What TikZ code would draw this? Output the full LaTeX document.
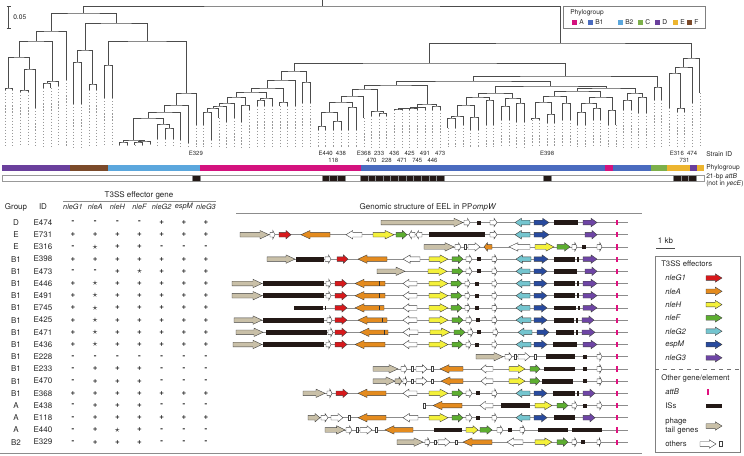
\documentclass[tikz,border=0pt]{standalone}
\usepackage{fontspec}
\setmainfont{TeX Gyre Heros}
\usetikzlibrary{calc}

% phylogroup colours
\definecolor{grA}{HTML}{D4127E}
\definecolor{grBi}{HTML}{4A6BBF}
\definecolor{grBii}{HTML}{5BA7DD}
\definecolor{grC}{HTML}{7DB04A}
\definecolor{grD}{HTML}{6A3F9C}
\definecolor{grE}{HTML}{EDB52F}
\definecolor{grF}{HTML}{7B4A2A}
% gene colours
\definecolor{cnleGi}{HTML}{D7191C}
\definecolor{cnleA}{HTML}{E48B1E}
\definecolor{cnleH}{HTML}{F4F13A}
\definecolor{cnleF}{HTML}{5DAE30}
\definecolor{cnleGii}{HTML}{74C5CF}
\definecolor{cespM}{HTML}{284A9E}
\definecolor{cnleGiii}{HTML}{6E45A5}
\definecolor{ctail}{HTML}{C9C0A8}
\definecolor{cattB}{HTML}{E0117F}
\definecolor{cIS}{HTML}{231916}

\tikzset{
    branch/.style = {draw=black!70, line width=0.55pt},
    leafdot/.style = {draw=black!40, line width=0.4pt, dash pattern=on 0.9pt off 1.4pt},
    sid/.style = {inner sep=0pt, font=\fontsize{4.5}{5}\selectfont},
    barlab/.style = {anchor=west, inner sep=0pt, font=\fontsize{5}{6}\selectfont},
    tabtext/.style = {inner sep=0pt, font=\fontsize{6}{7}\selectfont},
    headtext/.style = {inner sep=0pt, font=\fontsize{5.5}{7}\selectfont\itshape},
    legtext/.style = {anchor=west, inner sep=0pt, align=left, font=\fontsize{5.8}{6.6}\selectfont},
    rule/.style = {draw=black!45, line width=0.6pt},
    backbone/.style = {draw=black!45, line width=0.5pt},
    gene/.style = {draw=black!75, line width=0.3pt},
    eGi/.style = {gene, fill=cnleGi},
    eA/.style = {gene, fill=cnleA},
    eH/.style = {gene, fill=cnleH},
    eF/.style = {gene, fill=cnleF},
    eGii/.style = {gene, fill=cnleGii},
    eM/.style = {gene, fill=cespM},
    eGiii/.style = {gene, fill=cnleGiii},
    tail/.style = {gene, fill=ctail},
    oth/.style = {gene, fill=white}
}
% tree: a clade joins two children at a height
\newcommand{\clade}[4]{%
  \coordinate (#1) at ($(#2 |- 0,#4)!0.5!(#3 |- 0,#4)$);
  \draw[branch] (#2) |- (#1) -| (#3);}
% genes on the current row \ry
\newcommand{\generow}[2]{%
  \pgfmathsetmacro{\ry}{222.5+12.2*#1}
  \draw[backbone] (#2,\ry) -- (628,\ry);}
\newcommand{\gene}[3]{%
  \pgfmathsetmacro{\gh}{min(9,0.42*abs(#3-#2))*((#3>#2)*2-1)}
  \filldraw[#1] (#2,\ry-2.3) -- (#3-\gh,\ry-2.3) -- (#3-\gh,\ry-4.2) -- (#3,\ry)
    -- (#3-\gh,\ry+4.2) -- (#3-\gh,\ry+2.3) -- (#2,\ry+2.3) -- cycle;}
\newcommand{\wbox}[1]{\filldraw[oth] (#1-1.3,\ry-2.4) rectangle (#1+1.3,\ry+2.4);}
\newcommand{\bsq}[1]{\fill[cIS] (#1-2,\ry-2) rectangle (#1+2,\ry+2);}
\newcommand{\isbar}[2]{\fill[cIS] (#1,\ry-2.4) rectangle (#2,\ry+2.4);}
\newcommand{\attb}[1]{\fill[cattB] (#1-1,\ry-2.6) rectangle (#1+1,\ry+2.6);}
\newcommand{\cut}[1]{\draw[black!80, line width=0.35pt] (#1,\ry-2.3) -- (#1,\ry+2.3);}
\newcommand{\symp}{\textbf{+}}
\newcommand{\symm}{\textbf{-}}
\newcommand{\syms}{{\fontsize{7.5}{7.5}\selectfont$\star$}}

\begin{document}
\begin{tikzpicture}[x=0.75pt, y=-0.75pt, color=black!85]
\useasboundingbox (0,0) rectangle (744,455);

% scale bar
\draw[branch] (6.5,6) -- (11,6) (8.8,6) -- (8.8,28) (6.5,28) -- (11,28);
\node[barlab] (scale) at (13,17) {0.05};

% leaves
\foreach \t [count=\i from 0] in {90,90,92,92,108,88,88,86,80,104,104,90,90,98,98,
  145,145,145,145,144,139,139,139,140,143,125,125,140,118,122,118,122,110,106,106,
  106,106,106,106,103,103,130,130,130,130,130,130,118,116,116,116,110,110,110,110,
  110,110,110,128,128,125,130,130,125,125,120,120,122,122,120,120,123,123,120,120,
  125,125,120,120,125,125,110,110,113,113,100,100,108,112,112,103,93} {
  \coordinate (L\i) at ({5+7.635*\i},\t);
  \draw[leafdot] (L\i) -- ({5+7.635*\i},147);
}
% D, F and B2
\clade{d1}{L0}{L1}{88}
\clade{d2}{L2}{L3}{90}
\clade{d3}{d2}{L4}{69}
\clade{d4}{d1}{d3}{57}
\clade{d5}{L5}{L6}{83}
\clade{d6}{d5}{L7}{81}
\clade{d7}{d4}{d6}{41}
\clade{d8}{d7}{L8}{31}
\clade{f1}{L9}{L10}{62}
\clade{f2}{L11}{L12}{84}
\clade{f3}{f1}{f2}{50}
\clade{f4}{L13}{L14}{65}
\clade{b1}{L15}{L16}{142}
\clade{b2}{L17}{L18}{142}
\clade{b3}{b2}{L19}{141}
\clade{b4}{b1}{b3}{140}
\clade{b5}{L21}{L22}{128}
\clade{b6}{L20}{b5}{124}
\clade{b7}{b4}{b6}{118}
\clade{b8}{b7}{L23}{112}
\clade{b9}{b8}{L24}{105}
\clade{b10}{b9}{L25}{93}
\clade{b11}{f4}{b10}{41}
\clade{b12}{f3}{b11}{23}
\clade{left}{d8}{b12}{13}
% A
\clade{a1}{L26}{L27}{112}
\clade{a2}{a1}{L28}{108}
\clade{a3}{a2}{L29}{106}
\clade{a4}{a3}{L30}{103}
\clade{a5}{L31}{L32}{105}
\clade{a6}{a4}{a5}{97}
\clade{a7}{L33}{L34}{100}
\clade{a8}{a7}{L35}{98}
\clade{a9}{a6}{a8}{92}
\clade{a10}{L36}{L37}{102}
\clade{a11}{a9}{a10}{88}
\clade{a12}{a11}{L38}{80}
\clade{a13}{L39}{L40}{82}
\clade{a14}{a12}{a13}{71}
% A and B1
\clade{p1}{L41}{L42}{126}
\clade{p2}{L43}{L44}{121}
\clade{p3}{p1}{p2}{112}
\clade{p4}{L45}{L46}{107}
\clade{p5}{p3}{p4}{102}
\clade{p6}{p5}{L47}{96}
\clade{p7}{L49}{L50}{113}
\clade{p8}{L48}{p7}{111}
\clade{p9}{p6}{p8}{89}
\clade{q1}{L51}{L52}{109}
\clade{q2}{q1}{L53}{108.5}
\clade{q3}{q2}{L54}{108}
\clade{q4}{q3}{L55}{107.5}
\clade{q5}{L56}{L57}{106}
\clade{q6}{q4}{q5}{104}
\clade{q7}{p9}{q6}{85}
\clade{r1}{L58}{L59}{118}
\clade{r2}{r1}{L60}{116}
\clade{r3}{L61}{L62}{117}
\clade{r4}{r2}{r3}{105}
\clade{r5}{L63}{L64}{100}
\clade{r6}{r4}{r5}{97}
\clade{r7}{L65}{L66}{106}
\clade{r8}{L67}{L68}{103}
\clade{r9}{r7}{r8}{98}
\clade{r10}{r6}{r9}{93}
\clade{r11}{L69}{L70}{118}
\clade{r12}{L71}{L72}{114}
\clade{r13}{r11}{r12}{102}
\clade{r14}{L73}{L74}{103}
\clade{r15}{r13}{r14}{96}
\clade{r16}{L75}{L76}{112}
\clade{r17}{L77}{L78}{108}
\clade{r18}{r16}{r17}{103}
\clade{r19}{L79}{L80}{110}
\clade{r20}{r18}{r19}{97}
\clade{r21}{r15}{r20}{91}
\clade{r22}{L81}{L82}{100}
\clade{r23}{L83}{L84}{97}
\clade{r24}{r22}{r23}{93}
\clade{r25}{r21}{r24}{88}
\clade{r26}{r10}{r25}{86}
\clade{r27}{q7}{r26}{81}
% C, E and D
\clade{c1}{L85}{L86}{87}
\clade{r28}{r27}{c1}{76}
\clade{r29}{a14}{r28}{63}
\clade{e1}{L88}{L89}{108}
\clade{e2}{L87}{e1}{73}
\clade{e3}{e2}{L90}{67}
\clade{e4}{e3}{L91}{58}
\clade{right}{r29}{e4}{43}
\clade{root}{left}{right}{6}
\draw[branch] (root) -- (root |- 0,0);

% strain IDs
\foreach \lf/\lab in {25/E329, 42/E440, 44/438, 47/E368, 49/233, 51/436, 53/425,
  55/491, 57/473, 71/E398, 88/E316, 90/474}
  \node[sid] (id\lab) at (L\lf |- 0,153.5) {\lab};
\foreach \lf/\lab in {43/118, 48/470, 50/228, 52/471, 54/745, 56/446, 89/731}
  \node[sid] (id\lab) at (L\lf |- 0,160) {\lab};
\node[barlab] (strain) at (706,154.5) {Strain ID};

% phylogroup bar
\foreach \a/\b/\c in {2/70/grD, 70/108/grF, 108/200/grBii, 200/361/grA, 361/605/grBi,
  605/613/grA, 613/651/grBi, 651/667/grC, 667/690/grE, 690/697/grD, 697/704/grE}
  \fill[\c] (\a,165) rectangle (\b,171);
\node[barlab] (phylo) at (706,168) {Phylogroup};

% attB bar
\draw[draw=black!40, line width=0.4pt, fill=white] (2,175) rectangle (704,181);
\foreach \i in {25,42,43,44,47,48,49,50,51,52,53,54,55,56,57,71,88,89,90}
  \filldraw[fill=cIS, draw=black!45, line width=0.2pt] ({5+7.635*\i-3.8},175) rectangle ++(7.6,6);
\node[barlab] (attb) at (706,176.5) {21-bp \textit{attB}};
\node[barlab] (yece) at (706,183.5) {(not in \textit{yecE})};

% phylogroup legend
\draw[draw=black!50, line width=0.5pt] (563,6) rectangle (705,28);
\node[barlab] (legphylo) at (570,13) {Phylogroup};
\foreach \c/\lab/\x in {grA/A/572, grBi/B1/588, grBii/B2/618, grC/C/638, grD/D/655,
  grE/E/673, grF/F/687} {
  \fill[\c] (\x,19.5) rectangle ++(5,5);
  \node[barlab] at (\x+7,22) {\lab};
}

% table
\node[tabtext] (t3ss) at (139,195) {T3SS effector gene};
\draw[rule] (63,201) -- (216,201);
\node[tabtext] (group) at (16,207) {Group};
\node[tabtext] (id) at (43,207) {ID};
\foreach \nm [count=\c from 0] in {nleG1, nleA, nleH, nleF, nleG2, espM, nleG3}
  \node[headtext] at (73+22.17*\c,207) {\nm};
\foreach \g/\id/\v [count=\r from 0] in {
  D/E474/{m,m,m,m,p,p,p}, E/E731/{p,p,p,p,p,p,p}, E/E316/{m,s,p,p,m,m,m},
  B1/E398/{p,p,p,p,p,p,p}, B1/E473/{m,m,p,s,p,p,p}, B1/E446/{p,s,p,p,p,p,p},
  B1/E491/{p,s,p,p,p,p,p}, B1/E745/{p,s,p,p,p,p,p}, B1/E425/{p,s,p,p,p,p,p},
  B1/E471/{p,s,p,p,p,p,p}, B1/E436/{p,s,p,p,p,p,p}, B1/E228/{m,m,m,m,m,m,m},
  B1/E233/{m,p,p,p,m,m,m}, B1/E470/{m,p,p,p,m,m,m}, B1/E368/{p,p,p,p,p,p,p},
  A/E438/{m,p,p,p,m,m,m}, A/E118/{m,p,p,p,p,p,p}, A/E440/{m,p,s,p,m,m,m},
  B2/E329/{m,p,p,p,m,m,m}} {
  \pgfmathsetmacro{\ty}{222.5+12.2*\r}
  \node[tabtext] at (16,\ty) {\g};
  \node[tabtext] at (43,\ty) {\id};
  \foreach \s [count=\c from 0] in \v
    \node[tabtext] at (73+22.17*\c,\ty) {\csname sym\s\endcsname};
}
\node[tabtext] (genome) at (428,207) {Genomic structure of EEL in PP\textit{ompW}};
\draw[rule] (236,213) -- (642,213);
\draw[rule] (0,453) -- (642,453);

% genomic structure of each strain
\generow{0}{381}
\gene{tail}{381}{463} \gene{oth}{464}{470} \bsq{479} \gene{oth}{490}{497}
\gene{eGii}{530}{515} \gene{eM}{534}{549} \isbar{554}{578} \gene{eGiii}{583}{597} \attb{617}
\generow{1}{240}
\gene{tail}{240}{269} \gene{oth}{270}{275} \gene{eGi}{279}{291} \gene{eA}{330}{301}
\gene{oth}{362}{346} \gene{eH}{373}{394} \gene{eF}{396}{407} \gene{oth}{415}{409} \gene{oth}{422}{416}
\isbar{429}{485} \gene{oth}{490}{497} \gene{eGii}{530}{515} \gene{eM}{534}{549}
\gene{eGiii}{585}{597} \attb{617}
\generow{2}{424}
\gene{tail}{424}{454} \gene{oth}{455}{461} \wbox{465} \gene{oth}{468}{480} \gene{eA}{492}{484}
\gene{oth}{530}{509} \gene{eH}{535}{554} \gene{eF}{557}{570} \gene{oth}{572}{577} \bsq{584}
\gene{oth}{597}{602} \attb{617}
\generow{3}{267}
\gene{tail}{267}{295} \isbar{296}{324} \gene{oth}{325}{331} \gene{eGi}{337}{348} \gene{eA}{387}{358}
\gene{oth}{420}{403} \gene{eH}{429}{448} \gene{eF}{452}{463} \gene{oth}{466}{472} \bsq{479}
\gene{oth}{492}{497} \gene{eGii}{531}{516} \gene{eM}{534}{548} \isbar{554}{575} \isbar{577}{579}
\gene{eGiii}{583}{597} \attb{617}
\generow{4}{377}
\gene{tail}{377}{405} \gene{eH}{428}{447} \gene{eF}{452}{463} \gene{oth}{466}{472} \bsq{479}
\gene{oth}{492}{497} \gene{eGii}{530}{516} \gene{eM}{534}{547} \isbar{554}{577}
\gene{eGiii}{585}{597} \attb{617}
\foreach \k in {5,6} {
  \generow{\k}{232}
  \gene{tail}{232}{262} \isbar{263}{324} \gene{oth}{326}{331} \gene{eGi}{335}{347}
  \gene{eA}{385}{355} \cut{379} \gene{oth}{417}{403} \gene{eH}{429}{448} \gene{eF}{451}{462}
  \gene{oth}{465}{470} \bsq{477} \gene{oth}{492}{497} \gene{eGii}{530}{516} \gene{eM}{534}{547}
  \isbar{554}{575} \isbar{577}{579} \gene{eGiii}{583}{597} \attb{617}
}
\generow{7}{294}
\isbar{294}{323} \isbar{324.5}{326} \gene{eGi}{335}{347} \gene{eA}{384}{355} \cut{379}
\gene{oth}{417}{403} \gene{eH}{429}{448} \gene{eF}{451}{462} \gene{oth}{465}{470} \bsq{477}
\gene{oth}{492}{497} \gene{eGii}{530}{516} \gene{eM}{534}{547} \isbar{554}{576} \isbar{578}{580}
\gene{eGiii}{583}{597} \attb{617}
\generow{8}{234}
\gene{tail}{234}{262} \isbar{263}{324} \gene{oth}{327}{332} \gene{eGi}{335}{347}
\gene{eA}{387}{358} \cut{382} \gene{oth}{417}{403} \gene{eH}{429}{448} \gene{eF}{452}{463}
\gene{oth}{466}{472} \bsq{478} \gene{oth}{492}{497} \gene{eGii}{531}{516} \gene{eM}{534}{547}
\isbar{554}{574} \isbar{576}{578} \gene{eGiii}{582}{594} \attb{617}
\generow{9}{236}
\gene{tail}{236}{263} \isbar{266}{327} \gene{oth}{328}{333} \gene{eGi}{335}{347}
\gene{eA}{388}{360} \cut{384} \gene{oth}{418}{403} \gene{eH}{430}{450} \gene{eF}{454}{465}
\gene{oth}{468}{473} \bsq{479} \gene{oth}{493}{498} \gene{eGii}{532}{518} \gene{eM}{537}{549}
\isbar{556}{574} \isbar{576}{578} \gene{eGiii}{582}{595} \attb{617}
\generow{10}{233}
\gene{tail}{233}{262} \isbar{263}{324} \gene{oth}{326}{331} \gene{eGi}{335}{347}
\gene{eA}{385}{355} \gene{oth}{417}{403} \gene{eH}{429}{448} \gene{eF}{452}{463}
\gene{oth}{466}{471} \bsq{477} \gene{oth}{492}{497} \gene{eGii}{531}{516} \gene{eM}{534}{547}
\isbar{553}{577} \gene{eGiii}{583}{597} \attb{617}
\generow{11}{476}
\gene{tail}{476}{503} \gene{oth}{505}{512} \wbox{515} \gene{oth}{518}{530} \wbox{535}
\isbar{546}{575} \bsq{585} \gene{oth}{597}{602} \attb{617}
\generow{12}{373}
\gene{tail}{373}{398} \gene{oth}{401}{407} \wbox{412} \gene{oth}{416}{427} \wbox{432}
\gene{eA}{463}{440} \gene{oth}{493}{481} \gene{eH}{509}{525} \gene{eF}{530}{540}
\isbar{544}{575} \bsq{585} \gene{oth}{597}{602} \attb{617}
\generow{13}{373}
\gene{tail}{373}{395} \gene{tail}{395}{402} \gene{oth}{403}{407} \wbox{412} \gene{oth}{416}{427}
\wbox{432} \gene{eA}{463}{441} \gene{oth}{493}{481} \gene{eH}{509}{525} \gene{eF}{530}{540}
\isbar{542}{573} \bsq{585} \gene{oth}{597}{602} \attb{617}
\generow{14}{303}
\gene{tail}{303}{325} \gene{oth}{327}{332} \gene{eGi}{336}{348} \gene{eA}{386}{358}
\gene{oth}{417}{403} \gene{eH}{429}{448} \gene{eF}{452}{463} \gene{oth}{466}{472} \bsq{478}
\gene{oth}{492}{497} \gene{eGii}{530}{516} \gene{eM}{534}{547} \isbar{553}{575} \isbar{577}{579}
\gene{eGiii}{583}{595} \attb{617}
\generow{15}{423}
\wbox{424} \gene{eA}{462}{433} \gene{oth}{493}{480} \isbar{501}{530} \gene{eH}{535}{552}
\gene{eF}{557}{568} \gene{oth}{572}{577} \bsq{585} \gene{oth}{597}{602} \attb{617}
\generow{16}{308}
\gene{tail}{308}{320} \gene{oth}{321}{328} \gene{oth}{331}{343} \wbox{349} \gene{eA}{386}{358}
\gene{oth}{418}{403} \gene{eH}{429}{448} \gene{eF}{452}{463} \gene{oth}{466}{472} \bsq{478}
\gene{oth}{492}{497} \gene{eGii}{530}{516} \gene{eM}{534}{547} \isbar{554}{575}
\gene{eGiii}{583}{595} \attb{617}
\generow{17}{325}
\gene{tail}{325}{345} \gene{oth}{346}{352} \wbox{357} \gene{oth}{360}{372} \wbox{376}
\gene{eA}{413}{385} \isbar{434}{462} \gene{eH}{466}{478} \gene{eF}{480}{492} \gene{oth}{497}{503}
\bsq{510} \gene{oth}{520}{525} \isbar{538}{568} \isbar{572}{602} \attb{617}
\generow{18}{397}
\gene{tail}{397}{423} \gene{oth}{425}{430} \wbox{435} \gene{oth}{438}{450} \wbox{456}
\gene{eA}{492}{463} \gene{oth}{523}{507} \gene{eH}{535}{552} \gene{eF}{557}{568}
\gene{oth}{572}{577} \bsq{583} \gene{oth}{597}{601} \attb{617}

% scale and legend
\node[tabtext] (kb) at (665.5,241) {1 kb};
\draw[draw=black!70, line width=0.5pt] (656,248) -- (675,248);
\draw[draw=black!50, line width=0.5pt] (655,256) rectangle (740,452);
\node[legtext] (effectors) at (661,264) {T3SS effectors};
\foreach \nm/\st [count=\k from 0] in {nleG1/eGi, nleA/eA, nleH/eH, nleF/eF,
  nleG2/eGii, espM/eM, nleG3/eGiii} {
  \pgfmathsetmacro{\ry}{278+13.3*\k}
  \node[legtext] at (665,\ry) {\textit{\nm}};
  \gene{\st}{706}{722}
}
\draw[draw=black!55, line width=0.4pt, dashed] (655,369) -- (740,369);
\node[legtext] (other) at (661,378) {Other gene/element};
\def\ry{392} \node[legtext] at (665,\ry) {\textit{attB}}; \attb{707.5}
\def\ry{406} \node[legtext] at (665,\ry) {ISs}; \isbar{706}{722}
\def\ry{426} \node[legtext] at (665,\ry) {phage\\tail genes}; \gene{tail}{706}{722}
\def\ry{444} \node[legtext] at (665,\ry) {others}; \gene{oth}{700}{716} \wbox{720.5}
\end{tikzpicture}
\end{document}
